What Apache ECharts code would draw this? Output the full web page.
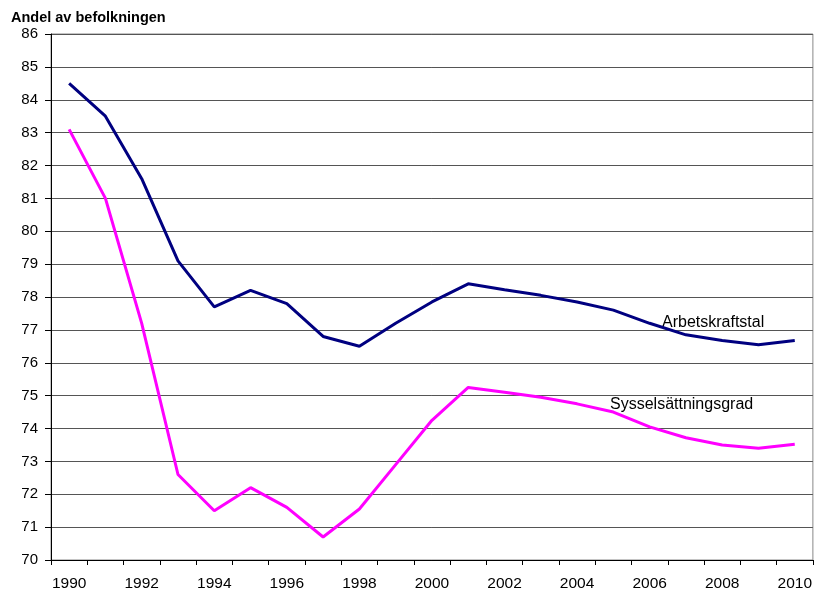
<!DOCTYPE html>
<html>
<head>
<meta charset="utf-8">
<script src="https://cdn.jsdelivr.net/npm/echarts@6/dist/echarts.min.js"></script>
<style>
  html, body { margin: 0; padding: 0; background: #fff; }
  #chart { width: 815px; height: 592px; }
</style>
</head>
<body>
<div id="chart"></div>
<script>
// år
const years = ['1990', '1991', '1992', '1993', '1994', '1995', '1996', '1997', '1998', '1999', '2000',
  '2001', '2002', '2003', '2004', '2005', '2006', '2007', '2008', '2009', '2010']
// Arbetskraftstal
const arbetskraftstal = [84.5, 83.5, 81.6, 79.1, 77.7, 78.2, 77.8, 76.8, 76.5, 77.2, 77.85,
  78.4, 78.22, 78.05, 77.85, 77.6, 77.2, 76.85, 76.68, 76.55, 76.68]
// Sysselsättningsgrad
const sysselsattningsgrad = [83.1, 81.0, 77.2, 72.6, 71.5, 72.2, 71.6, 70.7, 71.55, 72.9, 74.25,
  75.25, 75.1, 74.95, 74.75, 74.5, 74.05, 73.72, 73.5, 73.4, 73.52]

const myChart = echarts.init(document.getElementById('chart'))
const option = {
  animation: false,
  textStyle: { fontFamily: 'Liberation Sans, Arial, sans-serif' },
  grid: {
    left: 51,
    right: 2,
    top: 34,
    bottom: 32,
    show: true,
    borderColor: '#888',
    borderWidth: 1
  },
  graphic: [
    {
      type: 'text',
      left: 11,
      top: 10,
      style: { text: 'Andel av befolkningen', font: 'bold 14.5px Liberation Sans', fill: '#000' }
    },
    {
      type: 'text',
      left: 662,
      top: 315,
      style: { text: 'Arbetskraftstal', font: '16px Liberation Sans', fill: '#000' }
    },
    {
      type: 'text',
      left: 610,
      top: 397,
      style: { text: 'Sysselsättningsgrad', font: '16px Liberation Sans', fill: '#000' }
    }
  ],
  xAxis: {
    type: 'category',
    data: years,
    boundaryGap: true,
    axisLine: { lineStyle: { color: '#000', width: 1 } },
    axisTick: { show: true, interval: 0, length: 5, lineStyle: { color: '#000' } },
    axisLabel: { interval: 1, color: '#000', fontSize: 15.5, margin: 16 },
    splitLine: { show: false }
  },
  yAxis: {
    type: 'value',
    min: 70,
    max: 86,
    interval: 1,
    axisLine: { show: true, lineStyle: { color: '#000', width: 1 } },
    axisTick: { show: true, length: 6, lineStyle: { color: '#000' } },
    axisLabel: { color: '#000', fontSize: 15, margin: 13 },
    splitLine: { show: true, lineStyle: { color: '#555', width: 1 } }
  },
  series: [
    {
      name: 'Arbetskraftstal',
      type: 'line',
      data: arbetskraftstal,
      symbol: 'none',
      lineStyle: { color: '#000080', width: 3 }
    },
    {
      name: 'Sysselsättningsgrad',
      type: 'line',
      data: sysselsattningsgrad,
      symbol: 'none',
      lineStyle: { color: '#ff00ff', width: 3 }
    }
  ]
}
myChart.setOption(option)
</script>
</body>
</html>
